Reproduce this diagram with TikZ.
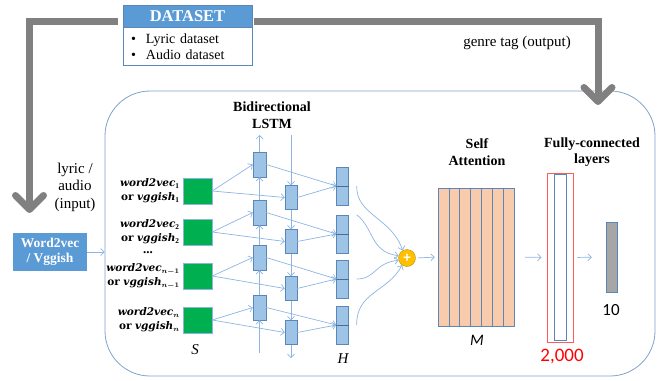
\documentclass[tikz,border=0pt]{standalone}
\usepackage{amsmath}
\usepackage{fontspec}
\setmainfont{Liberation Serif}
\setsansfont{Carlito}
\newfontfamily\vecfont{DejaVu Serif}
\usetikzlibrary{arrows.meta,positioning,calc}
\definecolor{flowgray}{HTML}{808080}
\definecolor{linkblue}{HTML}{8DB4E2}
\definecolor{cellblue}{HTML}{9DC3E6}
\definecolor{celledge}{HTML}{5B87B8}
\definecolor{headblue}{HTML}{5B9BD5}
\definecolor{embgreen}{HTML}{00B050}
\definecolor{attpeach}{HTML}{F8CBAD}
\definecolor{sumgold}{HTML}{FFC000}
\definecolor{fcred}{HTML}{FF5B5B}
\tikzset{
  link/.style={linkblue, line width=0.7pt, -{Straight Barb[length=3.5pt,width=7pt]}},
  bigflow/.style={flowgray, line width=7pt, -{Straight Barb[length=14pt,width=28pt,round]}},
  embbox/.style={draw=linkblue, fill=embgreen, minimum width=29pt, minimum height=26pt, inner sep=0pt},
  cell/.style={draw=celledge, fill=cellblue, minimum width=12pt, minimum height=25pt, inner sep=0pt},
  hcell/.style={draw=celledge, fill=cellblue, minimum width=12pt, minimum height=38pt, inner sep=0pt},
  layertitle/.style={font=\fontsize{14}{16.5}\selectfont\bfseries, align=center},
  plain/.style={font=\fontsize{15}{17.5}\selectfont, align=center},
  veclabel/.style={font=\vecfont\fontsize{10.5}{14}\selectfont, align=right, inner sep=0pt},
  symb/.style={font=\fontsize{15}{16}\selectfont\itshape},
  count/.style={font=\sffamily\fontsize{17}{18}\selectfont}
}
\begin{document}
\begin{tikzpicture}[x=1pt,y=-1pt]
\useasboundingbox (0,0) rectangle (658,380);
% model frame
\node[draw=linkblue!90!black, line width=0.8pt, rounded corners=45pt, minimum width=550pt,
  minimum height=285pt] (panel) at (380,233.5) {};
% dataset box
\node[fill=headblue, draw=celledge, text=white, minimum width=129pt, minimum height=22pt,
  inner sep=0pt, font=\fontsize{16.5}{18}\selectfont\bfseries] (dshead) at (187.5,16) {DATASET};
\node[draw=celledge, minimum width=129pt, minimum height=38pt, below=0pt of dshead,
  text width=113pt, align=left, inner xsep=8pt, font=\fontsize{14}{16}\selectfont] (dsbody)
  {\textbullet\hspace{10pt}Lyric dataset\\\textbullet\hspace{10pt}Audio dataset};
\coordinate (dsLeft) at (118,21);
\coordinate (dsRight) at (254,21);
\coordinate (inTip) at (29.5,213);
\coordinate (outTip) at (598,105);
\draw[bigflow] (dsLeft) -| (inTip);
\draw[bigflow] (dsRight) -| (outTip);
\node[plain] (outlbl) at (517,43) {genre tag (output)};
\node[plain, align=center] (inlbl) at (75,187) {lyric /\\audio\\(input)};
% embedding
\node[fill=headblue, text=white, minimum width=74pt, minimum height=38pt, inner sep=0pt,
  align=center, font=\fontsize{13.5}{15}\selectfont\bfseries] (w2v) at (50,252) {Word2vec\\/ Vggish};
\draw[link] (w2v.east) -- (w2v.east -| panel.west);
\foreach \i/\y in {1/191,2/232,3/276,4/320}
  \node[embbox] (s\i) at (197.5,\y) {};
\node[veclabel, left=3pt of s1] (l1) {\textbf{\textit{word2vec}}$_{\mathbf{1}}$\\\textbf{or} \textbf{\textit{vggish}}$_{\mathbf{1}}$};
\node[veclabel, left=3pt of s2] (l2) {\textbf{\textit{word2vec}}$_{\mathbf{2}}$\\\textbf{or} \textbf{\textit{vggish}}$_{\mathbf{2}}$};
\node[veclabel, left=3pt of s3] (l3) {\textbf{\textit{word2vec}}$_{\boldsymbol{n-1}}$\\\textbf{or} \textbf{\textit{vggish}}$_{\boldsymbol{n-1}}$};
\node[veclabel, left=3pt of s4] (l4) {\textbf{\textit{word2vec}}$_{\boldsymbol{n}}$\\\textbf{or} \textbf{\textit{vggish}}$_{\boldsymbol{n}}$};
\node[font=\fontsize{13}{13}\selectfont\bfseries] (dots) at (148,253) {...};
\node[symb] (slbl) at (195,350) {S};
% bidirectional LSTM
\node[layertitle] (lstm) at (272,115) {Bidirectional\\LSTM};
\foreach \i/\y in {1/164.5,2/212.5,3/257.5,4/307.5}
  \node[cell, minimum width=13pt] (f\i) at (259.5,\y) {};
\foreach \i/\y in {1/197.5,2/241.5,3/288.5,4/332.5}
  \node[cell, minimum height=24pt] (b\i) at (291,\y) {};
\foreach \i/\y in {1/186,2/234,3/279,4/325}{
  \node[hcell] (h\i) at (342.5,\y) {};
  \draw[celledge!80!black] (h\i.west) -- (h\i.east);
}
\foreach \i in {1,...,4}{
  \draw[link] (s\i.east) -- (f\i.west);
  \draw[link] (s\i.east) -- (b\i.west);
  \draw[link] (f\i.east) -- (h\i.west);
  \draw[link] (b\i.east) -- (h\i.west);
}
\coordinate (fTop) at (259.5,135);
\coordinate (fBot) at (259.5,353);
\coordinate (bTop) at (291,135);
\coordinate (bBot) at (291,358);
\draw[link] (fBot) -- (f4.south);
\draw[link] (f4.north) -- (f3.south);
\draw[link] (f3.north) -- (f2.south);
\draw[link] (f2.north) -- (f1.south);
\draw[link] (f1.north) -- (fTop);
\draw[link] (bTop) -- (b1.north);
\draw[link] (b1.south) -- (b2.north);
\draw[link] (b2.south) -- (b3.north);
\draw[link] (b3.south) -- (b4.north);
\draw[link] (b4.south) -- (bBot);
\node[symb] (hlbl) at (343,359) {H};
% merge
\node[circle, fill=sumgold, draw=sumgold!75!black, minimum size=17pt, inner sep=0pt,
  text=white, font=\sffamily\bfseries\fontsize{15}{15}\selectfont] (sum) at (407,258) {+};
\draw[link] ([xshift=8pt]h1.east) .. controls (356,215) and (392,218) .. (sum.120);
\draw[link] ([xshift=8pt]h2.north east) .. controls (374,228) and (370,252) .. (sum.165);
\draw[link] ([xshift=8pt]h3.east) .. controls (376,279) and (374,263) .. (sum.195);
\draw[link] ([xshift=8pt]h4.east) .. controls (356,292) and (388,292) .. (sum.235);
% self attention
\node[draw=celledge, fill=attpeach, minimum width=76pt, minimum height=138pt, inner sep=0pt] (att) at (476,257) {};
\foreach \k in {1,...,6}
  \draw[celledge] ($(att.north west)!\k/7!(att.north east)$) -- ($(att.south west)!\k/7!(att.south east)$);
\node[layertitle] (attlbl) at (477,152) {Self\\Attention};
\node[font=\sffamily\itshape\fontsize{16}{16}\selectfont] (mlbl) at (477,340) {M};
\draw[link, shorten <=2pt, shorten >=3pt] (sum.east) -- (att.west);
% fully connected
\node[draw=fcred, line width=0.9pt, minimum width=26pt, minimum height=169pt, inner sep=0pt] (fcout) at (560,257.5) {};
\node[draw=celledge, fill=white, minimum width=12pt, minimum height=166pt, inner sep=0pt] (fcin) at (560,257.5) {};
\node[layertitle] (fclbl) at (592,152) {Fully-connected\\layers};
\node[count, text=red, font=\sffamily\fontsize{19}{20}\selectfont] (fcnum) at (562,357) {2,000};
\node[draw=celledge, fill=black!35, minimum width=11pt, minimum height=70pt, inner sep=0pt] (outbar) at (611.5,257) {};
\node[count] (outnum) at (611,310) {10};
\draw[link, shorten <=11pt, shorten >=5pt] (att.east) -- (fcout.west);
\draw[link, shorten <=4pt, shorten >=14pt] (fcout.east) -- (outbar.west);
\end{tikzpicture}
\end{document}
